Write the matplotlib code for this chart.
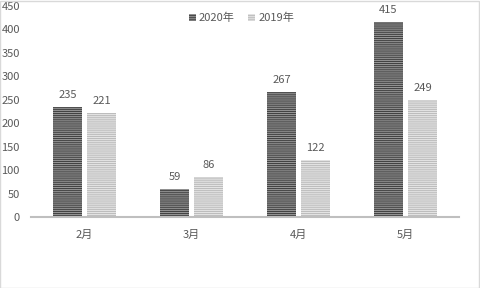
import matplotlib
matplotlib.use("Agg")
import matplotlib.pyplot as plt
from matplotlib.patches import Rectangle, Patch
import numpy as np

plt.rcParams['font.family'] = ['Noto Sans CJK SC', 'DejaVu Sans']
plt.rcParams['hatch.linewidth'] = 0.72

categories = ['2月', '3月', '4月', '5月']
series_names = ['2020年', '2019年']
values_2020 = [235, 59, 267, 415]
values_2019 = [221, 86, 122, 249]
yticks = [0, 50, 100, 150, 200, 250, 300, 350, 400, 450]

text_color = '#595959'
hatch = '-' * 8

fig = plt.figure(figsize=(4.8, 2.88), dpi=100)
ax = fig.add_axes([31/480, 1-217/288, 428/480, (217-6)/288])

x = np.arange(len(categories))
w = 0.262
off = 0.159
b1 = ax.bar(x - off, values_2020, w, color='#959595', edgecolor='#404040',
            hatch=hatch, linewidth=0)
b2 = ax.bar(x + off, values_2019, w, color='#e4e4e4', edgecolor='#bcbcbc',
            hatch=hatch, linewidth=0)

for bars, vals in ((b1, values_2020), (b2, values_2019)):
    for r, v in zip(bars, vals):
        ax.annotate(str(v), (r.get_x() + r.get_width()/2, v), xytext=(0, 5),
                    textcoords='offset points', ha='center', va='bottom',
                    fontsize=8, color=text_color)

ax.set_xlim(-0.5, len(categories) - 0.5)
ax.set_ylim(0, 450)
ax.set_yticks(yticks)
ax.set_yticklabels([str(t) for t in yticks])
ax.set_xticks(x)
ax.set_xticklabels(categories)
ax.tick_params(axis='both', length=0, labelsize=8, labelcolor=text_color)
ax.tick_params(axis='y', pad=8)
ax.tick_params(axis='x', pad=9)
for s in ('top', 'right', 'left'):
    ax.spines[s].set_visible(False)
ax.spines['bottom'].set_color('#bfbfbf')
ax.spines['bottom'].set_linewidth(1.5)

handles = [Patch(facecolor='#959595', edgecolor='#404040', hatch=hatch, linewidth=0),
           Patch(facecolor='#e4e4e4', edgecolor='#bcbcbc', hatch=hatch, linewidth=0)]
fig.legend(handles, series_names, loc='center', bbox_to_anchor=(0.503, 1-18/288),
           ncol=2, frameon=False, fontsize=8, handlelength=0.6, handleheight=0.6,
           handletextpad=0.3, columnspacing=1.2, labelcolor=text_color)

fig.patches.append(Rectangle((0.001, 0.001), 0.997, 0.997, transform=fig.transFigure,
                             fill=False, edgecolor='#d9d9d9', linewidth=1))

fig.savefig('out.png', dpi=100)
